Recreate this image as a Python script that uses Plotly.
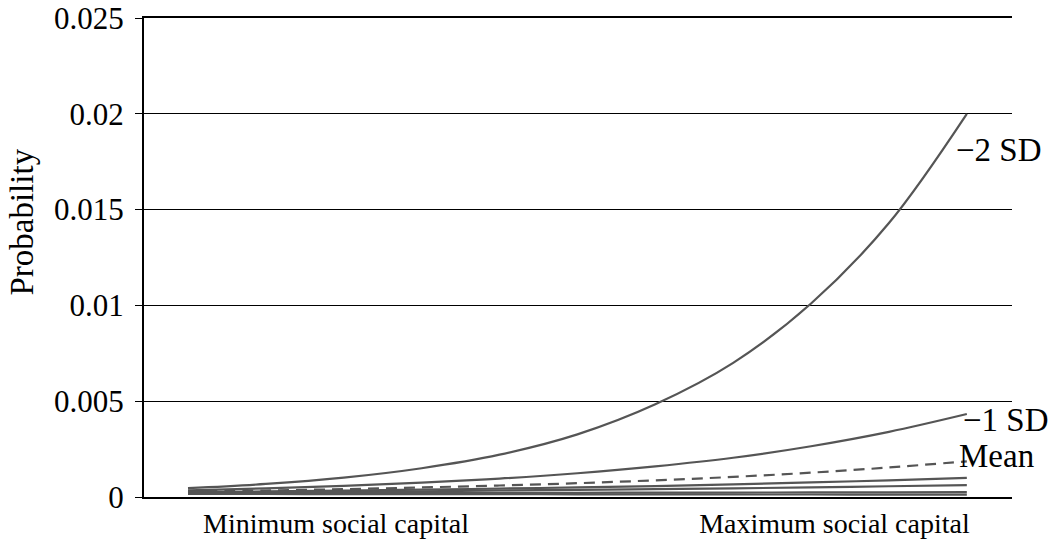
import plotly.graph_objects as go

# x positions along the social-capital range (0 = minimum, 1 = maximum)
x_vals = [0.0, 0.1, 0.2, 0.3, 0.4, 0.5, 0.6, 0.7, 0.8, 0.9, 1.0]

series_names = ["−2 SD", "−1 SD", "Mean", "+1 SD", "+2 SD", "+3 SD", "+4 SD"]
minus2_sd = [0.00046, 0.00068, 0.00101, 0.00150, 0.00221, 0.00327, 0.00484, 0.0070, 0.0101, 0.0143, 0.0200]
minus1_sd = [0.00035, 0.00045, 0.00058, 0.00075, 0.00096, 0.00124, 0.00160, 0.00205, 0.00265, 0.00340, 0.00433]
mean_vals = [0.00028, 0.00034, 0.00041, 0.00050, 0.00060, 0.00072, 0.00087, 0.00105, 0.00127, 0.00154, 0.00186]
plus1_sd = [0.00025, 0.00029, 0.00033, 0.00038, 0.00044, 0.00050, 0.00057, 0.00066, 0.00076, 0.00087, 0.00100]
plus2_sd = [0.00022, 0.00025, 0.00027, 0.00030, 0.00034, 0.00037, 0.00041, 0.00045, 0.00050, 0.00056, 0.00062]
plus3_sd = [0.00020, 0.00020, 0.00021, 0.00021, 0.00022, 0.00022, 0.00023, 0.00023, 0.00024, 0.00024, 0.00025]
plus4_sd = [0.00016, 0.00016, 0.00015, 0.00015, 0.00015, 0.00014, 0.00014, 0.00013, 0.00013, 0.00012, 0.00012]

all_series = [minus2_sd, minus1_sd, mean_vals, plus1_sd, plus2_sd, plus3_sd, plus4_sd]

category_ticks = [0.19, 0.83]
category_labels = ["Minimum social capital", "Maximum social capital"]

y_ticks = [0, 0.005, 0.01, 0.015, 0.02, 0.025]
y_tick_labels = ["0", "0.005", "0.01", "0.015", "0.02", "0.025"]

end_labels = ["−2 SD", "−1 SD", "Mean"]
end_label_x = [0.984, 0.992, 0.988]
end_label_y = [0.0181, 0.00400, 0.00213]

FONT = "Liberation Serif"
LINE = "#555555"

fig = go.Figure()
for name, vals in zip(series_names, all_series):
    fig.add_trace(go.Scatter(
        x=x_vals, y=vals, mode="lines", name=name,
        line=dict(color=LINE, width=2.2, shape="spline",
                  dash="11px,7px" if name == "Mean" else "solid"),
        hoverinfo="skip",
    ))

for txt, xv, yv in zip(end_labels, end_label_x, end_label_y):
    fig.add_annotation(x=xv, y=yv, xref="x", yref="y", text=txt,
                       showarrow=False, xanchor="left", yanchor="middle",
                       font=dict(family=FONT, size=33, color="black"))

fig.add_annotation(x=-0.1406, y=0.575, xref="paper", yref="paper", text="Probability",
                   textangle=-90, showarrow=False, xanchor="center", yanchor="middle",
                   font=dict(family=FONT, size=33, color="black"))

fig.update_layout(
    width=1050, height=548,
    margin=dict(l=144, r=38, t=18, b=51, autoexpand=False),
    plot_bgcolor="white", paper_bgcolor="white",
    showlegend=False,
    font=dict(family=FONT, size=30, color="black"),
)
fig.update_xaxes(
    range=[-0.0565, 1.058], tickvals=category_ticks, ticktext=category_labels,
    showgrid=False, zeroline=False, ticks="", automargin=False,
    showline=True, linecolor="black", linewidth=2, mirror=True,
    tickfont=dict(family=FONT, size=28, color="black"),
)
fig.update_yaxes(
    range=[0, 0.025], tickvals=y_ticks, ticktext=y_tick_labels,
    showgrid=True, gridcolor="black", gridwidth=1.3, automargin=False,
    zeroline=False, showline=True, linecolor="black", linewidth=2,
    ticks="outside", ticklen=7, tickcolor="black", tickwidth=1.3,
    ticklabeloverflow="allow", ticklabelstandoff=5,
    tickfont=dict(family=FONT, size=31, color="black"),
)

fig.write_html("out.html", config={"displayModeBar": False},
               post_script="document.body.style.margin='0';document.body.style.padding='0';")
